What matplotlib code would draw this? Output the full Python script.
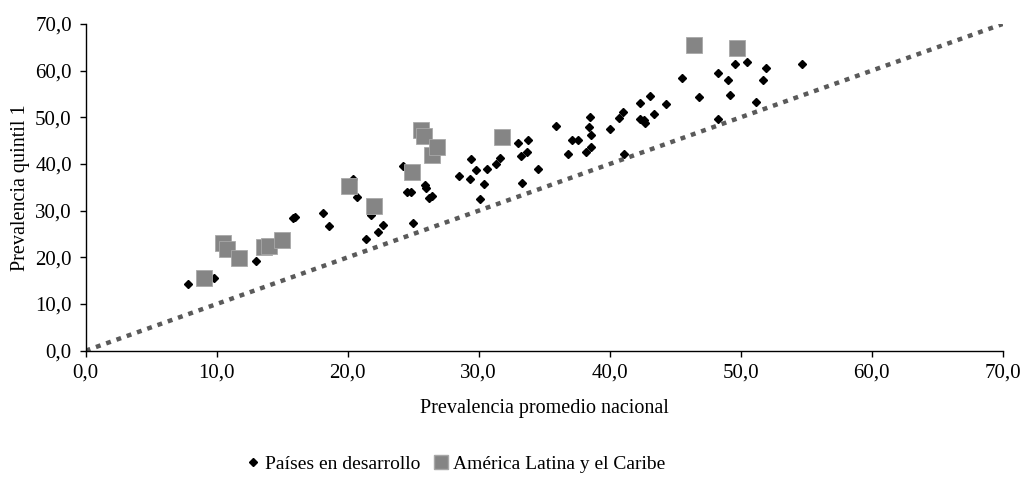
import matplotlib.pyplot as plt
from matplotlib.ticker import FuncFormatter

plt.rcParams['font.family'] = ['Liberation Serif', 'DejaVu Serif']

# Países en desarrollo (prevalencia nacional, prevalencia quintil 1)
dev_x = [7.8, 9.8, 13.0, 15.8, 16.0, 18.1, 18.6, 20.4, 20.7, 21.4, 21.8, 22.3, 22.7,
         24.2, 24.5, 24.8, 25.0, 25.9, 26.0, 26.2, 26.4, 28.5, 29.3, 29.4, 29.8,
         30.6, 30.4, 30.1, 31.3, 31.6, 33.0, 33.8, 33.2, 33.7, 33.3, 34.5, 35.9,
         36.8, 37.1, 37.6, 38.5, 38.4, 38.6, 38.2, 38.6, 40.0, 40.7, 41.0, 41.1,
         42.3, 43.1, 42.3, 42.6, 42.7, 43.4, 44.3, 45.5, 46.8, 48.3, 48.3, 49.0,
         49.2, 49.6, 50.5, 51.2, 51.9, 51.7, 54.7]
dev_y = [14.2, 15.5, 19.3, 28.4, 28.7, 29.6, 26.7, 36.7, 33.0, 24.0, 29.1, 25.5, 26.9,
         39.6, 34.1, 34.1, 27.3, 35.6, 34.9, 32.8, 33.2, 37.5, 36.7, 41.0, 38.7,
         38.9, 35.7, 32.4, 39.9, 41.2, 44.4, 45.2, 41.7, 42.5, 35.9, 39.0, 48.1,
         42.1, 45.2, 45.1, 50.0, 47.9, 46.3, 42.6, 43.6, 47.5, 49.9, 51.1, 42.2,
         53.1, 54.6, 49.7, 49.4, 48.7, 50.7, 52.9, 58.4, 54.4, 49.7, 59.4, 58.0,
         54.8, 61.4, 61.8, 53.2, 60.5, 58.0, 61.4]

# América Latina y el Caribe
lac_x = [9.0, 10.5, 10.8, 11.7, 13.6, 14.0, 15.0, 20.1, 22.0, 24.9, 25.6, 25.8,
         26.4, 26.8, 31.8, 46.4, 49.7]
lac_y = [15.5, 23.1, 21.8, 19.9, 22.2, 22.4, 23.7, 35.3, 31.0, 38.2, 47.3, 45.9,
         41.9, 43.7, 45.7, 65.5, 64.8]

ticks = [0, 10, 20, 30, 40, 50, 60, 70]

fig = plt.figure(figsize=(10.25, 4.8), dpi=100)
ax = fig.add_axes([0.0836, 0.2694, 0.8946, 0.6806])

ax.plot([0, 70], [0, 70], color='#5a5a5a', linewidth=3.2, dashes=(1.1, 1.35),
        dash_capstyle='butt', zorder=1)
ax.plot(dev_x, dev_y, linestyle='none', marker='D', markersize=4.3,
        color='black', label='Países en desarrollo', zorder=2)
ax.plot(lac_x, lac_y, linestyle='none', marker='s', markersize=11.5,
        markerfacecolor='#858585', markeredgecolor='#a8a8a8', markeredgewidth=0.6,
        label='América Latina y el Caribe', zorder=3)

ax.set_xlim(0, 70)
ax.set_ylim(0, 70)
ax.set_xticks(ticks)
ax.set_yticks(ticks)
fmt = FuncFormatter(lambda v, p: f'{v:.1f}'.replace('.', ','))
ax.xaxis.set_major_formatter(fmt)
ax.yaxis.set_major_formatter(fmt)
ax.tick_params(direction='out', length=4, width=1, labelsize=15, color='black')
ax.tick_params(axis='x', pad=5)
ax.tick_params(axis='y', pad=6)
for s in ['top', 'right']:
    ax.spines[s].set_visible(False)
for s in ['left', 'bottom']:
    ax.spines[s].set_linewidth(1)

ax.set_xlabel('Prevalencia promedio nacional', fontsize=14.5, labelpad=12)
ax.set_ylabel('Prevalencia quintil 1', fontsize=14.5, labelpad=4)

h1 = plt.Line2D([], [], linestyle='none', marker='D', markersize=3.6, color='black')
h2 = plt.Line2D([], [], linestyle='none', marker='s', markersize=9.5,
                markerfacecolor='#858585', markeredgecolor='#a8a8a8')
fig.legend([h1, h2], ['Países en desarrollo', 'América Latina y el Caribe'],
           loc='center', bbox_to_anchor=(0.445, 0.033), ncol=2, frameon=False,
           fontsize=14, handlelength=0.6, handletextpad=0.3, columnspacing=0.8)

fig.savefig('out.png', dpi=100)
